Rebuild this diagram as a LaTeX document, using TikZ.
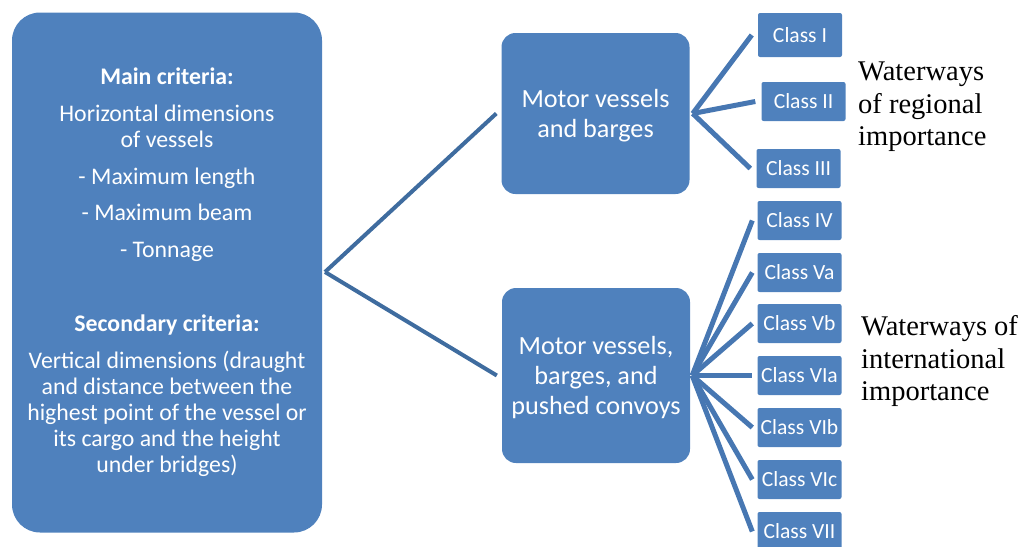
\documentclass[tikz,border=0pt]{standalone}
\usepackage{fontspec}
\setmainfont{Carlito}
\newfontfamily\labelfont{Liberation Serif}
\usepackage{xcolor}
\usetikzlibrary{positioning}
\definecolor{boxblue}{HTML}{4F81BD}
\definecolor{linkblue}{HTML}{3F6C9F}
\definecolor{fanblue}{HTML}{4777B2}

\tikzset{
  critbox/.style={fill=boxblue, text=white, rounded corners=28pt, minimum width=310pt,
    minimum height=520pt, inner sep=0pt, align=center, font=\fontsize{23.8}{26}\selectfont},
  groupbox/.style={fill=boxblue, text=white, rounded corners=14pt, minimum width=188pt,
    inner sep=0pt, align=center, font=\fontsize{26.2}{30}\selectfont},
  classbox/.style={fill=boxblue, text=white, rounded corners=2pt, minimum width=84pt,
    minimum height=39pt, inner sep=0pt, font=\fontsize{21.6}{25}\selectfont},
  mainlink/.style={draw=linkblue, line width=4pt},
  classlink/.style={draw=fanblue, line width=5pt},
  waylabel/.style={anchor=west, inner sep=0pt, align=left, font=\labelfont\fontsize{28.5}{32.5}\selectfont}
}

\begin{document}
\begin{tikzpicture}[x=1pt, y=-1pt]
    \useasboundingbox (0,0) rectangle (1019,546);
    \clip (0,0) rectangle (1019,546);

    % Criteria box
    \node[critbox] (crit) at (167,272.5) {\textbf{Main criteria:}\\[11pt]
      Horizontal dimensions\\ of vessels\\[11pt]
      - Maximum length\\[10pt]
      - Maximum beam\\[11pt]
      - Tonnage\\[48pt]
      \textbf{Secondary criteria:}\\[11pt]
      Vertical dimensions (draught\\ and distance between the\\
      highest point of the vessel or\\ its cargo and the height\\ under bridges)};

    % Vessel groups
    \node[groupbox, minimum height=161pt, text depth=-4pt] (mvb) at (595.5,113.5) {Motor vessels\\ and barges};
    \node[groupbox, minimum height=175pt, text depth=-4pt] (mvp) at (596,375.5) {Motor vessels,\\ barges, and\\ pushed convoys};

    % Links from criteria
    \coordinate (split) at (325,272);
    \draw[mainlink] (split) -- ([xshift=-5pt]mvb.west);
    \draw[mainlink] (split) -- ([xshift=-5pt]mvp.west);

    % Regional classes
    \node[classbox, minimum height=44pt] (cI) at (800,35) {Class I};
    \node[classbox] (cII) at (803.5,101.5) {Class II};
    \node[classbox] (cIII) at (798.5,168.5) {Class III};
    \coordinate (splitA) at ([xshift=3pt]mvb.east);
    \foreach \c in {cI,cII,cIII}
      \draw[classlink] (splitA) -- ([xshift=-6pt]\c.west);

    % International classes
    \foreach \c/\t/\y in {cIV/IV/220.5, cVa/Va/272.5, cVb/Vb/323.5, cVIa/VIa/375.5,
                          cVIb/VIb/427.5, cVIc/VIc/479.5, cVII/VII/531.5}
      \node[classbox] (\c) at (799.5,\y) {Class \t};
    \coordinate (splitB) at ([xshift=2pt]mvp.east);
    \foreach \c in {cIV,cVa,cVb,cVIa,cVIb,cVIc,cVII}
      \draw[classlink] (splitB) -- ([xshift=-5pt]\c.west);

    % Importance labels
    \node[waylabel] (regional) at (858,107) {Waterways\\ of regional\\ importance};
    \node[waylabel] (intl) at (861,361) {Waterways of\\ international\\ importance};
\end{tikzpicture}
\end{document}
